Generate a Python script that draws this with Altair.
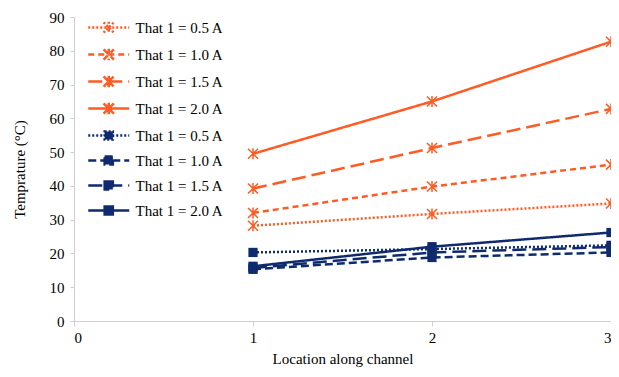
import altair as alt
import pandas as pd

locations = [1, 2, 3]
series_keys = ["o0.5", "o1.0", "o1.5", "o2.0", "b0.5", "b1.0", "b1.5", "b2.0"]
orange_05 = [28.2, 31.7, 34.8]
orange_10 = [32.0, 39.8, 46.3]
orange_15 = [39.2, 51.2, 62.8]
orange_20 = [49.5, 65.0, 82.7]
blue_05 = [20.3, 21.3, 22.4]
blue_10 = [15.3, 18.8, 20.3]
blue_15 = [15.7, 20.3, 21.9]
blue_20 = [16.2, 22.0, 26.2]

values = [orange_05, orange_10, orange_15, orange_20, blue_05, blue_10, blue_15, blue_20]
rows = []
for key, vals in zip(series_keys, values):
    for loc, v in zip(locations, vals):
        rows.append({"series": key, "group": key[0], "loc": loc, "temp": v})
df = pd.DataFrame(rows)

ORANGE = "#FF5B24"
NAVY = "#0F2B6E"
colors = [ORANGE] * 4 + [NAVY] * 4
fills = ["transparent"] * 4 + [NAVY] * 4
dashes = [[2, 2], [6, 4], [14, 6], [1, 0], [2, 2], [8, 4], [14, 6], [1, 0]]
STAR = "M-1,-1L1,1M-1,1L1,-1M0,-1.1L0,1.1"
LEG_STAR = "M-1,0H3M0.5,-0.5L1.5,0.5M0.5,0.5L1.5,-0.5M1,-0.55V0.55"
LEG_SQUARE = "M-1,0H3M0.6,-0.4H1.4V0.4H0.6Z"
legend_shapes = [LEG_STAR] * 4 + [LEG_SQUARE] * 4

FONT = "Liberation Serif"

x_enc = alt.X("loc:Q", scale=alt.Scale(domain=[0, 3], nice=False),
              axis=alt.Axis(values=[0, 1, 2, 3], format="d", title="Location along channel",
                            grid=False, domainColor="#cfcfcf", tickColor="#cfcfcf",
                            tickSize=5, labelPadding=4, titlePadding=6,
                            labelFont=FONT, titleFont=FONT, labelFontSize=15, titleFontSize=15,
                            titleFontWeight="normal", labelColor="black", titleColor="black"))
y_enc = alt.Y("temp:Q", scale=alt.Scale(domain=[0, 90], nice=False),
              axis=alt.Axis(values=list(range(0, 91, 10)), title="Temprature (°C)",
                            grid=False, domainColor="#cfcfcf", tickColor="#cfcfcf",
                            tickSize=4, labelPadding=6, titlePadding=22,
                            labelFont=FONT, titleFont=FONT, labelFontSize=15, titleFontSize=15,
                            titleFontWeight="normal", labelColor="black", titleColor="black"))

legend = alt.Legend(
    title=None, orient="none", legendX=13, legendY=-1, padding=0,
    symbolSize=420, symbolStrokeWidth=2.5, labelOffset=25.5, rowPadding=4,
    labelFont=FONT, labelFontSize=15, labelColor="black",
    labelExpr="'That 1 = ' + slice(datum.label, 1) + ' A'",
)

color_scale = alt.Scale(domain=series_keys, range=colors)
dash_scale = alt.Scale(domain=series_keys, range=dashes)

lines = alt.Chart(df).mark_line(strokeWidth=2.5, strokeCap="butt").encode(
    x=x_enc, y=y_enc,
    color=alt.Color("series:N", scale=color_scale, legend=legend),
    strokeDash=alt.StrokeDash("series:N", scale=dash_scale, legend=legend),
)

orange_pts = alt.Chart(df).transform_filter("datum.group == 'o'").mark_point(
    shape=STAR, size=100, strokeWidth=1.5, opacity=1, filled=False).encode(
    x=x_enc, y=y_enc,
    color=alt.Color("series:N", scale=color_scale, legend=legend),
)

blue_pts = alt.Chart(df).transform_filter("datum.group == 'b'").mark_point(
    shape="square", size=85, opacity=1, filled=True).encode(
    x=x_enc, y=y_enc,
    color=alt.Color("series:N", scale=color_scale, legend=legend),
)

# legend-only layer (no rows pass the filter); gives the legend its line + marker symbols
legend_layer = alt.Chart(df).transform_filter("datum.temp < -1000").mark_point(
    filled=False, opacity=1).encode(
    x=x_enc, y=y_enc,
    color=alt.Color("series:N", scale=color_scale, legend=legend),
    strokeDash=alt.StrokeDash("series:N", scale=dash_scale, legend=legend),
    shape=alt.Shape("series:N", scale=alt.Scale(domain=series_keys, range=legend_shapes), legend=legend),
    fill=alt.Fill("series:N", scale=alt.Scale(domain=series_keys, range=fills), legend=legend),
)

chart = alt.layer(lines, orange_pts, blue_pts, legend_layer).properties(
    width=537, height=304,
    autosize=alt.AutoSizeParams(type="none"),
    padding={"left": 66, "top": 9, "right": 0, "bottom": 48},
).configure_view(stroke=None)

chart.save("out.html", embed_options={"renderer": "svg", "actions": False})
